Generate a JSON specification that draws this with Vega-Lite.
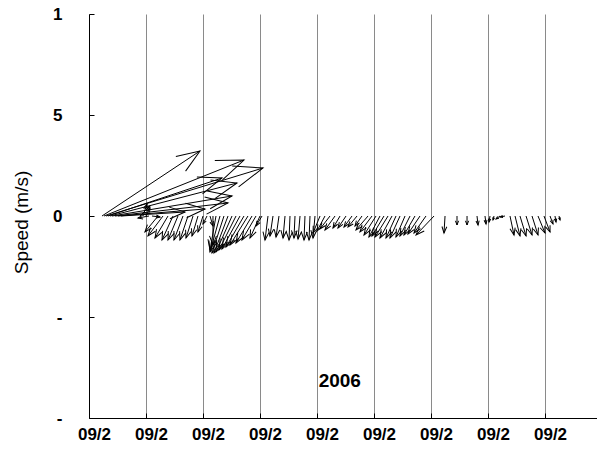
{
  "$schema": "https://vega.github.io/schema/vega-lite/v6.json",
  "width": 508,
  "height": 404,
  "autosize": {"type": "none"},
  "padding": {"left": 89, "top": 14, "right": 0, "bottom": 31},
  "background": "white",
  "config": {"view": {"stroke": null}, "font": "Liberation Sans"},
  "datasets": {
    "vec": [
      {"t":0.228,"xe":1.947,"ye":3.218,"dir":56.4,"speed":5.82},
      {"t":0.263,"xe":2.719,"ye":2.772,"dir":68.2,"speed":7.46},
      {"t":0.298,"xe":3.053,"ye":2.376,"dir":73.0,"speed":8.13},
      {"t":0.333,"xe":2.333,"ye":1.881,"dir":71.6,"speed":5.95},
      {"t":0.368,"xe":2.596,"ye":1.634,"dir":75.4,"speed":6.50},
      {"t":0.404,"xe":2.509,"ye":0.990,"dir":80.5,"speed":6.02},
      {"t":0.456,"xe":2.439,"ye":0.644,"dir":83.4,"speed":5.63},
      {"t":0.509,"xe":2.035,"ye":0.347,"dir":85.4,"speed":4.32},
      {"t":0.561,"xe":1.684,"ye":0.198,"dir":86.4,"speed":3.17},
      {"t":0.895,"xe":1.070,"ye":0.495,"dir":45.0,"speed":0.70},
      {"t":0.947,"xe":1.018,"ye":0.594,"dir":18.4,"speed":0.63},
      {"t":1.000,"xe":1.070,"ye":0.396,"dir":26.6,"speed":0.44},
      {"t":1.053,"xe":0.860,"ye":-0.099,"dir":259.7,"speed":0.55},
      {"t":1.105,"xe":1.246,"ye":-0.050,"dir":97.1,"speed":0.40},
      {"t":1.211,"xe":0.982,"ye":-0.792,"dir":219.1,"speed":1.02},
      {"t":1.298,"xe":1.035,"ye":-0.990,"dir":216.9,"speed":1.24},
      {"t":1.386,"xe":1.158,"ye":-1.089,"dir":210.6,"speed":1.27},
      {"t":1.474,"xe":1.281,"ye":-1.188,"dir":204.6,"speed":1.31},
      {"t":1.561,"xe":1.386,"ye":-1.188,"dir":202.6,"speed":1.29},
      {"t":1.649,"xe":1.491,"ye":-1.188,"dir":200.6,"speed":1.27},
      {"t":1.737,"xe":1.596,"ye":-1.188,"dir":198.4,"speed":1.25},
      {"t":1.825,"xe":1.702,"ye":-1.089,"dir":197.7,"speed":1.14},
      {"t":1.912,"xe":1.807,"ye":-0.990,"dir":196.7,"speed":1.03},
      {"t":2.000,"xe":1.912,"ye":-0.792,"dir":197.4,"speed":0.83},
      {"t":2.070,"xe":2.000,"ye":-0.396,"dir":206.6,"speed":0.44},
      {"t":2.123,"xe":2.175,"ye":-0.495,"dir":163.3,"speed":0.52},
      {"t":2.175,"xe":2.175,"ye":-1.436,"dir":180.0,"speed":1.44},
      {"t":2.228,"xe":2.123,"ye":-1.683,"dir":190.0,"speed":1.71},
      {"t":2.298,"xe":2.123,"ye":-1.782,"dir":195.5,"speed":1.85},
      {"t":2.368,"xe":2.158,"ye":-1.832,"dir":198.0,"speed":1.93},
      {"t":2.439,"xe":2.193,"ye":-1.832,"dir":200.7,"speed":1.96},
      {"t":2.509,"xe":2.228,"ye":-1.782,"dir":204.0,"speed":1.95},
      {"t":2.579,"xe":2.281,"ye":-1.683,"dir":206.6,"speed":1.88},
      {"t":2.649,"xe":2.333,"ye":-1.634,"dir":208.6,"speed":1.86},
      {"t":2.719,"xe":2.404,"ye":-1.535,"dir":210.1,"speed":1.77},
      {"t":2.789,"xe":2.474,"ye":-1.436,"dir":211.8,"speed":1.69},
      {"t":2.860,"xe":2.579,"ye":-1.337,"dir":210.7,"speed":1.55},
      {"t":2.930,"xe":2.684,"ye":-1.188,"dir":210.3,"speed":1.38},
      {"t":3.000,"xe":2.825,"ye":-1.089,"dir":204.4,"speed":1.20},
      {"t":3.035,"xe":2.930,"ye":-0.495,"dir":211.0,"speed":0.58},
      {"t":3.140,"xe":3.088,"ye":-1.188,"dir":187.1,"speed":1.20},
      {"t":3.228,"xe":3.175,"ye":-0.990,"dir":188.5,"speed":1.00},
      {"t":3.333,"xe":3.281,"ye":-1.040,"dir":188.1,"speed":1.05},
      {"t":3.439,"xe":3.404,"ye":-1.089,"dir":185.2,"speed":1.09},
      {"t":3.526,"xe":3.509,"ye":-1.188,"dir":182.4,"speed":1.19},
      {"t":3.614,"xe":3.596,"ye":-1.089,"dir":182.6,"speed":1.09},
      {"t":3.702,"xe":3.667,"ye":-1.139,"dir":185.0,"speed":1.14},
      {"t":3.789,"xe":3.772,"ye":-1.188,"dir":182.4,"speed":1.19},
      {"t":3.877,"xe":3.860,"ye":-1.188,"dir":182.4,"speed":1.19},
      {"t":3.965,"xe":3.930,"ye":-1.089,"dir":185.2,"speed":1.09},
      {"t":4.053,"xe":3.930,"ye":-0.842,"dir":202.4,"speed":0.91},
      {"t":4.140,"xe":4.000,"ye":-0.743,"dir":208.1,"speed":0.84},
      {"t":4.228,"xe":4.053,"ye":-0.644,"dir":217.6,"speed":0.81},
      {"t":4.316,"xe":4.140,"ye":-0.693,"dir":215.5,"speed":0.85},
      {"t":4.404,"xe":4.281,"ye":-0.594,"dir":210.3,"speed":0.69},
      {"t":4.509,"xe":4.368,"ye":-0.594,"dir":213.7,"speed":0.71},
      {"t":4.614,"xe":4.474,"ye":-0.545,"dir":216.0,"speed":0.67},
      {"t":4.702,"xe":4.544,"ye":-0.545,"dir":219.3,"speed":0.70},
      {"t":4.789,"xe":4.667,"ye":-0.495,"dir":215.0,"speed":0.60},
      {"t":4.895,"xe":4.684,"ye":-0.693,"dir":220.6,"speed":0.91},
      {"t":4.965,"xe":4.754,"ye":-0.792,"dir":216.9,"speed":0.99},
      {"t":5.035,"xe":4.825,"ye":-0.941,"dir":212.3,"speed":1.11},
      {"t":5.105,"xe":4.912,"ye":-1.040,"dir":207.6,"speed":1.17},
      {"t":5.175,"xe":4.965,"ye":-0.990,"dir":211.0,"speed":1.15},
      {"t":5.246,"xe":5.018,"ye":-1.040,"dir":211.8,"speed":1.22},
      {"t":5.316,"xe":5.105,"ye":-1.089,"dir":208.6,"speed":1.24},
      {"t":5.386,"xe":5.211,"ye":-1.089,"dir":204.4,"speed":1.20},
      {"t":5.456,"xe":5.281,"ye":-1.089,"dir":204.4,"speed":1.20},
      {"t":5.544,"xe":5.386,"ye":-1.040,"dir":203.2,"speed":1.13},
      {"t":5.632,"xe":5.456,"ye":-0.990,"dir":206.6,"speed":1.11},
      {"t":5.719,"xe":5.526,"ye":-0.941,"dir":210.1,"speed":1.09},
      {"t":5.807,"xe":5.596,"ye":-0.891,"dir":213.7,"speed":1.07},
      {"t":5.912,"xe":5.702,"ye":-0.842,"dir":215.2,"speed":1.03},
      {"t":6.053,"xe":5.737,"ye":-0.941,"dir":223.5,"speed":1.30},
      {"t":6.246,"xe":6.228,"ye":-0.842,"dir":183.4,"speed":0.84},
      {"t":6.456,"xe":6.456,"ye":-0.446,"dir":180.0,"speed":0.45},
      {"t":6.632,"xe":6.632,"ye":-0.446,"dir":180.0,"speed":0.45},
      {"t":6.807,"xe":6.825,"ye":-0.446,"dir":173.7,"speed":0.45},
      {"t":6.947,"xe":6.965,"ye":-0.396,"dir":172.9,"speed":0.40},
      {"t":7.035,"xe":7.018,"ye":-0.297,"dir":189.5,"speed":0.30},
      {"t":7.105,"xe":7.088,"ye":-0.198,"dir":194.0,"speed":0.20},
      {"t":7.211,"xe":7.140,"ye":-0.149,"dir":233.1,"speed":0.25},
      {"t":7.298,"xe":7.211,"ye":-0.050,"dir":258.7,"speed":0.25},
      {"t":7.386,"xe":7.456,"ye":-0.941,"dir":168.1,"speed":0.96},
      {"t":7.474,"xe":7.561,"ye":-0.990,"dir":166.0,"speed":1.02},
      {"t":7.561,"xe":7.667,"ye":-0.990,"dir":163.3,"speed":1.03},
      {"t":7.667,"xe":7.772,"ye":-0.941,"dir":162.5,"speed":0.99},
      {"t":7.772,"xe":7.877,"ye":-0.941,"dir":162.5,"speed":0.99},
      {"t":7.877,"xe":8.000,"ye":-0.842,"dir":157.6,"speed":0.91},
      {"t":7.982,"xe":8.088,"ye":-0.792,"dir":159.4,"speed":0.85},
      {"t":8.088,"xe":8.140,"ye":-0.396,"dir":159.4,"speed":0.42},
      {"t":8.175,"xe":8.193,"ye":-0.297,"dir":170.5,"speed":0.30},
      {"t":8.246,"xe":8.263,"ye":-0.198,"dir":166.0,"speed":0.20}
    ],
    "note": [{"x": 4.4, "y": -8.17, "label": "2006"}]
  },
  "layer": [
    {
      "data": {"name": "vec"},
      "mark": {"type": "rule", "color": "black", "strokeWidth": 1},
      "encoding": {
        "x": {
          "field": "xe", "type": "quantitative",
          "scale": {"domain": [0, 8.912], "nice": false, "zero": false},
          "axis": {
            "values": [0, 1, 2, 3, 4, 5, 6, 7, 8],
            "labelExpr": "'09/2'",
            "title": null,
            "grid": true, "gridColor": "#8a8a8a", "gridWidth": 1,
            "tickSize": -5, "tickColor": "black",
            "domainColor": "black", "domainWidth": 1,
            "labelFont": "Liberation Sans", "labelFontWeight": "bold", "labelFontSize": 17,
            "labelColor": "black", "labelPadding": 13, "labelOverlap": false,
            "labelFlush": false, "labelBound": false,
            "labelBaseline": "top", "labelOffset": 5
          }
        },
        "x2": {"field": "t"},
        "y": {
          "field": "ye", "type": "quantitative",
          "scale": {"domain": [-10, 10], "nice": false, "zero": false},
          "axis": {
            "values": [-10, -5, 0, 5, 10],
            "labelExpr": "datum.value == 10 ? '1' : datum.value == 5 ? '5' : datum.value == 0 ? '0' : '-'",
            "title": "Speed (m/s)",
            "titleFont": "Liberation Sans", "titleFontWeight": "normal", "titleFontSize": 19,
            "titleColor": "black", "titleX": -68, "titleY": 208, "titleAngle": -90,
            "titleBaseline": "middle", "titleAlign": "center",
            "grid": false,
            "tickSize": -5, "tickColor": "black",
            "domainColor": "black", "domainWidth": 1,
            "labelFont": "Liberation Sans", "labelFontWeight": "bold", "labelFontSize": 17,
            "labelColor": "black", "labelPadding": 32, "labelFlush": false
          }
        },
        "y2": {"datum": 0}
      }
    },
    {
      "data": {"name": "vec"},
      "mark": {
        "type": "point",
        "shape": "M -0.38 1 L 0 0 L 0.38 1",
        "filled": false, "stroke": "black", "strokeWidth": 1, "opacity": 1
      },
      "encoding": {
        "x": {"field": "xe", "type": "quantitative"},
        "y": {"field": "ye", "type": "quantitative"},
        "angle": {"field": "dir", "type": "quantitative", "scale": null},
        "size": {
          "field": "speed", "type": "quantitative",
          "scale": {"type": "pow", "exponent": 1.333, "domain": [0, 10], "range": [0, 4400]},
          "legend": null
        }
      }
    },
    {
      "data": {"name": "note"},
      "mark": {"type": "text", "font": "Liberation Sans", "fontWeight": "bold", "fontSize": 19, "color": "black", "baseline": "middle", "align": "center"},
      "encoding": {
        "x": {"field": "x", "type": "quantitative"},
        "y": {"field": "y", "type": "quantitative"},
        "text": {"field": "label"}
      }
    }
  ]
}
